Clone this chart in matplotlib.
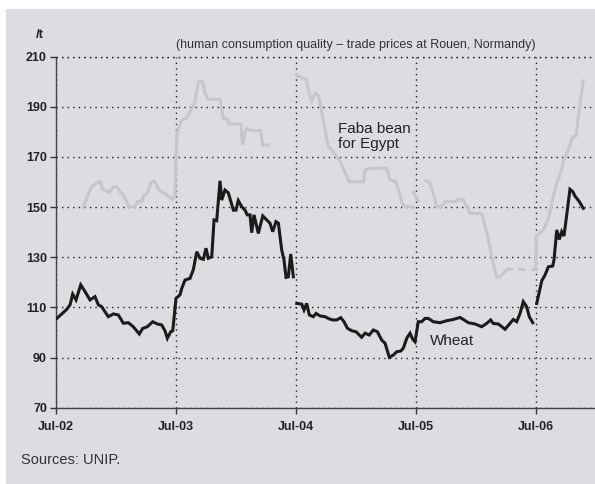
import matplotlib
matplotlib.use("Agg")
from matplotlib import pyplot as plt
from matplotlib.patches import Rectangle

# prices in EUR/t, x in decimal years (Jul-02 = 2002.5)
wheat_x1 = [2002.506, 2002.548, 2002.589, 2002.617, 2002.639, 2002.667, 2002.706, 2002.742,
            2002.783, 2002.825, 2002.853, 2002.881, 2002.908, 2002.936, 2002.978, 2003.019,
            2003.061, 2003.103, 2003.144, 2003.194, 2003.222, 2003.261, 2003.306, 2003.344,
            2003.381, 2003.408, 2003.428, 2003.456, 2003.473, 2003.500, 2003.533, 2003.548,
            2003.575, 2003.617, 2003.644, 2003.673, 2003.700, 2003.728, 2003.750, 2003.769,
            2003.798, 2003.817, 2003.839, 2003.867, 2003.881, 2003.908, 2003.936, 2003.978,
            2004.000, 2004.019, 2004.048, 2004.075, 2004.094, 2004.117, 2004.131, 2004.150,
            2004.186, 2004.223, 2004.256, 2004.283, 2004.306, 2004.333, 2004.353, 2004.381,
            2004.400, 2004.417, 2004.436, 2004.456, 2004.478]
wheat_y1 = [105.6, 107.4, 109.2, 111.0, 115.3, 113.0, 119.0, 116.3,
            113.0, 114.3, 111.0, 110.3, 108.3, 106.3, 107.4, 107.0,
            103.7, 103.9, 102.3, 99.4, 101.6, 102.3, 104.3, 103.4,
            103.0, 100.7, 97.7, 100.3, 100.7, 113.6, 115.0, 117.6,
            120.9, 121.6, 125.0, 132.2, 129.6, 129.2, 133.6, 129.6,
            130.2, 144.9, 144.6, 160.5, 152.8, 156.8, 155.7, 148.8,
            148.8, 152.6, 150.2, 148.8, 146.9, 146.9, 139.8, 146.9,
            139.5, 146.5, 144.9, 143.6, 140.2, 144.2, 143.6, 132.9,
            128.9, 122.0, 122.2, 131.3, 122.2]

wheat_x2 = [2004.506, 2004.548, 2004.567, 2004.589, 2004.611, 2004.644, 2004.667, 2004.700,
            2004.742, 2004.778, 2004.806, 2004.839, 2004.873, 2004.900, 2004.928, 2004.964,
            2005.000, 2005.047, 2005.075, 2005.111, 2005.144, 2005.178, 2005.214, 2005.242,
            2005.278, 2005.311, 2005.339, 2005.373, 2005.394, 2005.423, 2005.450, 2005.473,
            2005.492, 2005.519, 2005.548, 2005.575, 2005.603, 2005.644, 2005.700, 2005.756,
            2005.811, 2005.867, 2005.894, 2005.936, 2005.992, 2006.047, 2006.089, 2006.122,
            2006.144, 2006.186, 2006.242, 2006.283, 2006.311, 2006.339, 2006.367, 2006.394,
            2006.422, 2006.444, 2006.473]
wheat_y2 = [111.6, 111.3, 109.0, 111.6, 107.0, 106.3, 107.6, 106.6,
            106.3, 105.4, 105.0, 105.0, 105.9, 104.3, 101.7, 100.7,
            100.3, 98.1, 99.7, 99.0, 101.0, 100.3, 97.0, 95.7,
            90.1, 91.0, 92.3, 92.6, 93.7, 97.7, 99.7, 97.3,
            96.3, 104.3, 104.3, 105.6, 105.6, 104.3, 103.9, 104.7,
            105.2, 106.0, 105.2, 103.9, 103.4, 102.3, 103.6, 105.0,
            103.6, 103.4, 101.3, 103.6, 105.2, 104.3, 107.6, 112.3,
            110.3, 106.3, 103.9]

wheat_x3 = [2006.506, 2006.528, 2006.548, 2006.575, 2006.603, 2006.639, 2006.650, 2006.673,
            2006.694, 2006.714, 2006.733, 2006.756, 2006.783, 2006.806, 2006.825, 2006.861,
            2006.894]
wheat_y3 = [111.6, 116.3, 120.6, 122.9, 126.2, 126.5, 128.9, 140.9,
            137.1, 140.2, 138.5, 146.9, 157.1, 156.2, 154.4, 152.2,
            149.5]

faba_x1 = [2002.728, 2002.756, 2002.798, 2002.839, 2002.867, 2002.889, 2002.922, 2002.944,
           2002.978, 2003.006, 2003.033, 2003.061, 2003.089, 2003.103, 2003.158, 2003.178,
           2003.214, 2003.233, 2003.261, 2003.289, 2003.317, 2003.344, 2003.373, 2003.408,
           2003.436, 2003.473, 2003.492, 2003.498, 2003.511, 2003.548, 2003.583, 2003.611,
           2003.639, 2003.658, 2003.686, 2003.722, 2003.742, 2003.769, 2003.867, 2003.894,
           2003.928, 2003.944, 2004.039, 2004.056, 2004.075, 2004.094, 2004.117, 2004.206,
           2004.222, 2004.269]
faba_y1 = [150.2, 153.5, 158.1, 159.7, 160.1, 157.1, 156.5, 155.9,
           158.1, 158.1, 156.1, 154.8, 152.2, 150.2, 150.2, 152.2,
           152.2, 154.8, 155.5, 159.7, 160.5, 158.1, 156.1, 155.5,
           154.2, 153.1, 154.4, 168.8, 180.1, 184.7, 185.4, 187.4,
           190.1, 192.0, 200.0, 200.0, 195.4, 193.0, 193.0, 185.4,
           185.0, 183.2, 183.2, 174.8, 180.1, 181.4, 180.5, 180.5,
           174.8, 174.8]

faba_x2 = [2004.506, 2004.561, 2004.589, 2004.603, 2004.631, 2004.658, 2004.686, 2004.728,
           2004.769, 2004.797, 2004.867, 2004.894, 2004.944, 2005.061, 2005.075, 2005.117,
           2005.256, 2005.283, 2005.333, 2005.361, 2005.394, 2005.464]
faba_y2 = [202.5, 201.4, 200.7, 196.7, 192.4, 195.4, 194.7, 184.7,
           174.1, 172.8, 168.5, 165.5, 160.1, 160.1, 164.8, 165.5,
           165.5, 160.8, 160.1, 155.5, 150.4, 150.2]

faba_x3 = [2005.481, 2005.500, 2005.517]
faba_y3 = [155.8, 154.0, 152.5]

faba_x4 = [2005.583, 2005.611, 2005.644, 2005.672, 2005.714, 2005.742, 2005.839, 2005.853,
           2005.894, 2005.922, 2005.950, 2006.047, 2006.089, 2006.131, 2006.172, 2006.200,
           2006.228, 2006.261, 2006.297]
faba_y4 = [160.5, 160.1, 155.5, 150.2, 150.2, 152.2, 152.2, 153.1,
           153.1, 150.2, 147.5, 147.5, 140.2, 130.2, 122.2, 122.2,
           123.6, 125.2, 125.2]

faba_gap_x = [2006.297, 2006.497]
faba_gap_y = [125.2, 125.2]

faba_x5 = [2006.497, 2006.502, 2006.561, 2006.603, 2006.644, 2006.672, 2006.700, 2006.733,
           2006.769, 2006.806, 2006.833, 2006.853, 2006.872, 2006.894]
faba_y5 = [125.2, 138.2, 140.9, 145.5, 154.2, 159.5, 162.8, 168.8,
           172.8, 178.1, 178.4, 186.1, 192.7, 200.4]

tick_pos = [2002.5, 2003.5, 2004.5, 2005.5, 2006.5]
tick_lab = ["Jul-02", "Jul-03", "Jul-04", "Jul-05", "Jul-06"]
y_ticks = [70, 90, 110, 130, 150, 170, 190, 210]

plt.rcParams["font.family"] = ["Liberation Sans", "DejaVu Sans"]

fig = plt.figure(figsize=(5.95, 4.84), dpi=100, facecolor="white")
fig.patches.append(Rectangle((6 / 595, 0.0), 1.0, 1 - 9 / 484, transform=fig.transFigure,
                             facecolor="#dcdde0", edgecolor="none", zorder=-5))

ax = fig.add_axes([56 / 595, 1 - 407.7 / 484, 540 / 595, 351 / 484])
ax.set_facecolor("none")
ax.set_zorder(2)

faba_col = "#c6c7c9"
wheat_col = "#1b1b1b"
for fx, fy in [(faba_x1, faba_y1), (faba_x2, faba_y2), (faba_x3, faba_y3),
               (faba_x4, faba_y4), (faba_x5, faba_y5)]:
    ax.plot(fx, fy, color=faba_col, lw=2.2, solid_joinstyle="miter", zorder=3)
ax.plot(faba_gap_x, faba_gap_y, color=faba_col, lw=2.2, linestyle=(2.5, (2.5, 1.8)), zorder=3)

for wx, wy in [(wheat_x1, wheat_y1), (wheat_x2, wheat_y2), (wheat_x3, wheat_y3)]:
    ax.plot(wx, wy, color=wheat_col, lw=2.2, solid_joinstyle="miter", zorder=4)

ax.set_xlim(2002.5, 2007.0)
ax.set_ylim(70, 210)
ax.set_xticks(tick_pos)
ax.set_xticklabels(tick_lab, fontweight="bold", fontsize=9, color="#222222")
ax.set_yticks(y_ticks)
ax.set_yticklabels([str(v) for v in y_ticks], fontweight="bold", fontsize=9, color="#222222")
ax.tick_params(axis="x", length=4, width=1, pad=5.5, color="#333333")
ax.tick_params(axis="y", length=4.5, width=1, pad=2, color="#333333")

for sp in ["top", "right"]:
    ax.spines[sp].set_visible(False)
for sp in ["left", "bottom"]:
    ax.spines[sp].set_color("#444444")
    ax.spines[sp].set_linewidth(1)

ax.grid(True, linestyle=(0, (1, 3)), color="#222222", linewidth=1)
ax.set_axisbelow(True)
# dotted line at the top value
ax.axhline(210, linestyle=(0, (1, 3)), color="#222222", linewidth=1, zorder=1, clip_on=False)

fig.text(36 / 595, 1 - 35 / 484, "/t", fontweight="bold", fontsize=9.5, color="#222222",
         ha="left", va="center")
fig.text(176 / 595, 1 - 45 / 484, "(human consumption quality \u2013 trade prices at Rouen, Normandy)",
         fontsize=9.0, color="#333333", ha="left", va="center")

ax.text(2004.852, 179.6, "Faba bean", fontsize=11, color="#222222", ha="left", va="baseline",
        zorder=5)
ax.text(2004.852, 173.6, "for Egypt", fontsize=11, color="#222222", ha="left", va="baseline",
        zorder=5)
ax.text(2005.617, 95.0, "Wheat", fontsize=11, color="#222222", ha="left", va="baseline", zorder=5)

fig.text(21 / 595, 1 - 460 / 484, "Sources: UNIP.", fontsize=10.5, color="#333333",
         ha="left", va="center")

fig.savefig("out.png", dpi=100, facecolor=fig.get_facecolor())
